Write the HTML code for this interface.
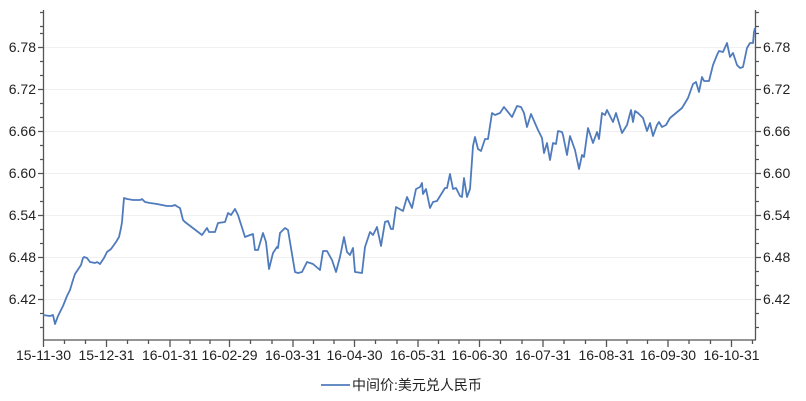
<!DOCTYPE html>
<html><head><meta charset="utf-8"><style>
html,body{margin:0;padding:0;background:#fff;}
svg{display:block;font-family:"Liberation Sans","Noto Sans CJK SC",sans-serif;}
</style></head><body>
<svg width="806" height="401" viewBox="0 0 806 401" xmlns="http://www.w3.org/2000/svg">
<g stroke="#f0f0f0" stroke-width="1">
<line x1="44" x2="755" y1="47.5" y2="47.5"/><line x1="44" x2="755" y1="89.5" y2="89.5"/>
<line x1="44" x2="755" y1="131.5" y2="131.5"/><line x1="44" x2="755" y1="173.5" y2="173.5"/>
<line x1="44" x2="755" y1="215.5" y2="215.5"/><line x1="44" x2="755" y1="257.5" y2="257.5"/>
<line x1="44" x2="755" y1="299.5" y2="299.5"/>
</g>
<g stroke="#555" stroke-width="1.3" fill="none">
<line x1="43.5" y1="10" x2="43.5" y2="340"/>
<line x1="755.5" y1="10" x2="755.5" y2="340"/>
<line x1="43" y1="340" x2="756" y2="340"/>
<path d="M38 47.5h6M38 89.5h6M38 131.5h6M38 173.5h6M38 215.5h6M38 257.5h6M38 299.5h6
M40 12.5h4M40 26.5h4M40 33.5h4M40 61.5h4M40 75.5h4M40 103.5h4M40 117.5h4M40 145.5h4M40 159.5h4M40 187.5h4M40 201.5h4M40 229.5h4M40 243.5h4M40 271.5h4M40 285.5h4M40 313.5h4M40 327.5h4
M755 47.5h6M755 89.5h6M755 131.5h6M755 173.5h6M755 215.5h6M755 257.5h6M755 299.5h6
M755 12.5h4M755 26.5h4M755 33.5h4M755 61.5h4M755 75.5h4M755 103.5h4M755 117.5h4M755 145.5h4M755 159.5h4M755 187.5h4M755 201.5h4M755 229.5h4M755 243.5h4M755 271.5h4M755 285.5h4M755 313.5h4M755 327.5h4
M43.5 340v7M106.5 340v7M170 340v7M229.5 340v7M293 340v7M354.5 340v7M418 340v7M479.5 340v7M543 340v7M606.5 340v7M668 340v7M731.5 340v7
M64.5 340v4M85.5 340v4M127.5 340v4M148.5 340v4M190 340v4M210 340v4M250.5 340v4M272 340v4M313.5 340v4M334 340v4M375.5 340v4M397 340v4M438.5 340v4M459 340v4M500.5 340v4M522 340v4M564 340v4M585.5 340v4M627 340v4M647.5 340v4M689 340v4M710.5 340v4M752.5 340v4"/>
</g>
<g font-size="14" fill="#222" text-anchor="end">
<text x="36" y="52">6.78</text><text x="36" y="94">6.72</text><text x="36" y="136">6.66</text>
<text x="36" y="178">6.60</text><text x="36" y="220">6.54</text><text x="36" y="262">6.48</text><text x="36" y="304">6.42</text>
</g>
<g font-size="14" fill="#222">
<text x="763" y="52">6.78</text><text x="763" y="94">6.72</text><text x="763" y="136">6.66</text>
<text x="763" y="178">6.60</text><text x="763" y="220">6.54</text><text x="763" y="262">6.48</text><text x="763" y="304">6.42</text>
</g>
<g font-size="14" fill="#222" text-anchor="middle">
<text x="43.5" y="360">15-11-30</text><text x="106.5" y="360">15-12-31</text><text x="170" y="360">16-01-31</text>
<text x="229.5" y="360">16-02-29</text><text x="293" y="360">16-03-31</text><text x="354.5" y="360">16-04-30</text>
<text x="418" y="360">16-05-31</text><text x="479.5" y="360">16-06-30</text><text x="543" y="360">16-07-31</text>
<text x="606.5" y="360">16-08-31</text><text x="668" y="360">16-09-30</text><text x="731.5" y="360">16-10-31</text>
</g>
<polyline fill="none" stroke="#4f7bbd" stroke-width="1.8" stroke-linejoin="round" points="
43,315 50,316 53,315 55,324 58,316 63,306 67,296 70,290 73,280 75,274 79,268 81,265 83,258 84,257 87,258 90,262 95,263 97,262 100,264 104,258 107,252 111,249 116,242 119,237 121,228 122,222 124,198 127,199 133,200 140,200 142,199 145,202 150,203 157,204 162,205 167,206 172,206 175,205 178,207 180,208
183,220 185,222 202,235 207,228 209,232 215,232 218,223 225,222 228,213 231,215 235,209 238,215 245,237 250,235 253,234 255,250 258,250 263,233 266,242 269,269 273,253 277,247 278,248 280,233 285,228 288,230 295,272 298,273 302,272 307,262 310,263 313,264 320,270 323,251 327,251 332,260 336,272 340,257 344,237 347,252 350,255 353,248 355,272 362,273 365,247 370,232
373,235 377,227 381,246 385,222 388,221 391,229 393,229 396,207 403,211 407,197 412,208 416,189 420,187 422,183 423,194 426,189 430,208 433,202 437,201 445,188 447,188 450,174 453,189 456,188 460,196 462,197 464,178 467,197 470,189 473,146 475,137 478,149 481,151 485,139 488,139 492,113 495,115 500,113 504,107 512,117 517,106 521,107 524,113 527,127 531,114 538,130 542,138 544,153 547,143 550,160 553,143 556,144 558,131 562,132 563,135 567,155 570,136 575,150 579,169 582,155 584,157 588,128 593,143 597,132 599,139 602,113
605,115 607,110 612,120 613,122 616,113 622,133 627,125 631,110 633,122 635,111 638,113 643,118 647,131 650,123 653,136 657,125 659,122 662,127 666,125 670,118 682,108 688,98 693,84 696,82 699,92 702,77 704,81 709,81 713,65 717,55 719,51 723,52 727,43 730,57 733,53 737,65 740,68 743,67 747,48 750,43 753,43 754,32 755,28"/>
<line x1="321" y1="385" x2="350" y2="385" stroke="#4f7bbd" stroke-width="1.8"/>
<text x="352" y="390" font-size="14" fill="#222">中间价:美元兑人民币</text>
</svg>
</body></html>
